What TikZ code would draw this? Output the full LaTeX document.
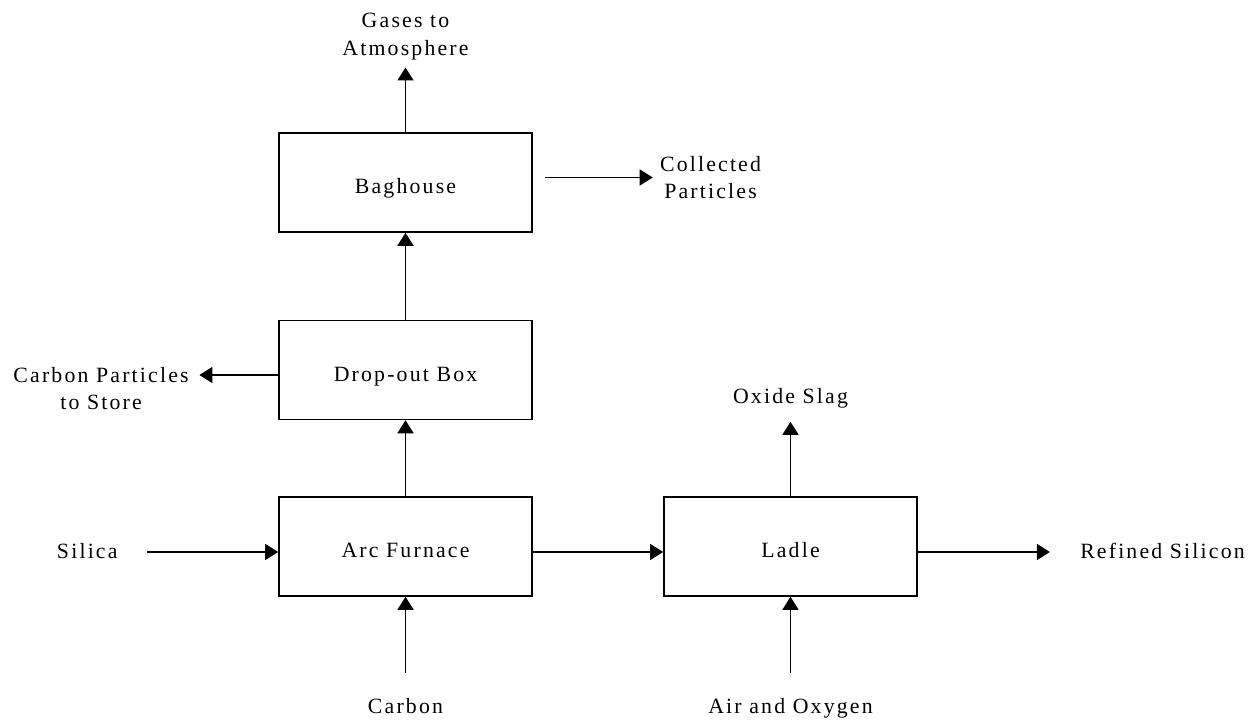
\documentclass[tikz,border=0pt]{standalone}
\usepackage{fontspec}
\setmainfont{Liberation Serif}[LetterSpace=10]
\usepackage{tikz}
\usetikzlibrary{positioning,arrows.meta}

\begin{document}
\begin{tikzpicture}[every node/.style={font=\fontsize{12.4}{15.5}\selectfont},
    unit/.style={draw, line width=0.9pt, minimum width=5.06cm, minimum height=1.98cm, text height=0.46cm, text depth=0pt},
    lbl/.style={inner sep=0pt, align=center},
    flow/.style={-{Triangle[length=0.26cm,width=0.32cm]}, line width=0.9pt}]
  \useasboundingbox (0,0) rectangle (25.1,14.4);
  \node[unit] (bag) at (8.11,10.75) {Baghouse};
  \node[unit] (drop) at (8.11,7.00) {Drop-out Box};
  \node[unit] (arc) at (8.11,3.47) {Arc Furnace};
  \node[unit] (ladle) at (15.81,3.47) {Ladle};

  \node[lbl] (gases) at (8.11,13.67) {Gases to\\Atmosphere};
  \node[lbl] (coll) at (14.21,10.85) {Collected\\Particles};
  \node[lbl] (cpart) at (2.02,6.63) {Carbon Particles\\to Store};
  \node[lbl] (silica) at (1.745,3.38) {Silica};
  \node[lbl] (refined) at (23.25,3.38) {Refined Silicon};
  \node[lbl] (oxide) at (15.81,6.44) {Oxide Slag};
  \node[lbl] (carbon) at (8.11,0.284) {Carbon};
  \node[lbl] (air) at (15.81,0.238) {Air and Oxygen};

  \coordinate (cpy) at (0,6.9);
  \coordinate (rowy) at (0,3.36);

  \draw[flow, shorten >=0.15cm] (bag) -- (gases);
  \draw[flow] (drop) -- (bag);
  \draw[flow] (arc) -- (drop);
  \draw[flow, shorten <=0.24cm, shorten >=0.14cm] (bag.east |- coll) -- (coll);
  \draw[flow, shorten >=0.21cm] (drop.west |- cpy) -- (cpart.east |- cpy);
  \draw[flow, shorten <=0.59cm] (silica.east |- rowy) -- (arc.west |- rowy);
  \draw[flow] (arc.east |- rowy) -- (ladle.west |- rowy);
  \draw[flow, shorten >=0.6cm] (ladle.east |- rowy) -- (refined.west |- rowy);
  \draw[flow, shorten >=0.27cm] (ladle) -- (oxide);
  \draw[flow, shorten <=0.49cm] (carbon) -- (arc);
  \draw[flow, shorten <=0.49cm] (air) -- (ladle);
\end{tikzpicture}
\end{document}
